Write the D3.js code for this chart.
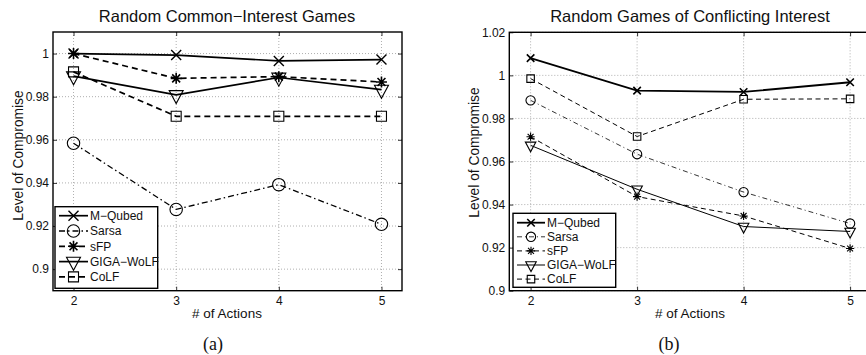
<!DOCTYPE html>
<html>
<head>
<meta charset="utf-8">
<script src="https://cdn.jsdelivr.net/npm/d3@7"></script>
<style>
  body { margin: 0; background: #fff; }
  svg { display: block; font-family: "Liberation Sans", Arial, sans-serif; }
</style>
</head>
<body>
<svg id="chart" width="866" height="355"></svg>
<script>
// data
const actions = [2, 3, 4, 5];
const seriesNames = ['M\u2212Qubed', 'Sarsa', 'sFP', 'GIGA\u2212WoLF', 'CoLF'];

// (a) random common-interest games
const commonMQubed = [1.0, 0.9993, 0.9966, 0.9972];
const commonSarsa = [0.9584, 0.9277, 0.9392, 0.9208];
const commonSFP = [1.0, 0.9885, 0.9893, 0.9868];
const commonGiga = [0.9895, 0.9808, 0.9889, 0.9833];
const commonCoLF = [0.9915, 0.9709, 0.9709, 0.9709];

// (b) random games of conflicting interest
const conflictMQubed = [1.008, 0.9929, 0.9923, 0.9968];
const conflictSarsa = [0.9884, 0.9634, 0.9458, 0.9312];
const conflictSFP = [0.9715, 0.9437, 0.9347, 0.9196];
const conflictGiga = [0.9675, 0.9471, 0.9298, 0.9275];
const conflictCoLF = [0.9985, 0.9716, 0.9889, 0.9891];

const commonYTicks = [0.9, 0.92, 0.94, 0.96, 0.98, 1];
const conflictYTicks = [0.9, 0.92, 0.94, 0.96, 0.98, 1, 1.02];

const svg = d3.select('#chart');

// marker shapes, s = size factor
function markerPath(kind, s) {
    if (kind === 'x') {
        const h = 5 * s;
        return `M${-h},${-h}L${h},${h}M${-h},${h}L${h},${-h}`;
    }
    if (kind === 'star') {
        const a = 5.5 * s, b = a * 0.72;
        return `M${-a},0L${a},0M0,${-a}L0,${a}M${-b},${-b}L${b},${b}M${-b},${b}L${b},${-b}`;
    }
    if (kind === 'circle') {
        const r = 6.2 * s;
        return `M${r},0A${r},${r} 0 1,1 ${-r},0A${r},${r} 0 1,1 ${r},0Z`;
    }
    if (kind === 'tri') {
        const w = 7 * s, h = 13 * s;
        return `M${-w},${-h / 3}L${w},${-h / 3}L0,${2 * h / 3}Z`;
    }
    // square
    const q = 5 * s;
    return `M${-q},${-q}L${q},${-q}L${q},${q}L${-q},${q}Z`;
}

function drawPanel(p) {
    const x = d3.scaleLinear().domain([1.8, 5.2]).range([p.left, p.right]);
    const y = d3.scaleLinear().domain(p.yDomain).range([p.bottom, p.top]);
    const g = svg.append('g');

    // dotted grid
    g.append('g').selectAll('line')
        .data(actions)
        .enter().append('line')
        .attr('x1', d => x(d)).attr('x2', d => x(d))
        .attr('y1', p.top).attr('y2', p.bottom)
        .attr('stroke', '#9a9a9a').attr('stroke-width', 0.8)
        .attr('stroke-dasharray', '1,2');
    g.append('g').selectAll('line')
        .data(p.yTicks)
        .enter().append('line')
        .attr('x1', p.left).attr('x2', p.right)
        .attr('y1', d => y(d)).attr('y2', d => y(d))
        .attr('stroke', '#9a9a9a').attr('stroke-width', 0.8)
        .attr('stroke-dasharray', '1,2');

    // axes, inward ticks
    const fmt = d => String(+d.toFixed(2));
    const ax = g.append('g').attr('transform', `translate(0,${p.bottom})`)
        .call(d3.axisBottom(x).tickValues(actions).tickSize(-4).tickPadding(6).tickFormat(d3.format('d')));
    const ay = g.append('g').attr('transform', `translate(${p.left},0)`)
        .call(d3.axisLeft(y).tickValues(p.yTicks).tickSize(-4).tickPadding(4).tickFormat(fmt));
    g.append('g').attr('transform', `translate(0,${p.top})`)
        .call(d3.axisTop(x).tickValues(actions).tickSize(-4).tickFormat(''));
    g.append('g').attr('transform', `translate(${p.right},0)`)
        .call(d3.axisRight(y).tickValues(p.yTicks).tickSize(-4).tickFormat(''));
    g.selectAll('.domain').remove();
    g.selectAll('.tick line').attr('stroke', '#000').attr('stroke-width', 0.8);
    [ax, ay].forEach(a => a.selectAll('text')
        .attr('font-size', 12).attr('fill', '#111')
        .attr('font-family', '"Liberation Sans", Arial, sans-serif'));

    g.append('rect')
        .attr('x', p.left).attr('y', p.top)
        .attr('width', p.right - p.left).attr('height', p.bottom - p.top)
        .attr('fill', 'none').attr('stroke', '#000').attr('stroke-width', 1.4);

    // series
    const line = d3.line().x((d, i) => x(actions[i])).y(d => y(d));
    p.series.forEach(s => {
        g.append('path')
            .attr('d', line(s.values))
            .attr('fill', 'none').attr('stroke', '#000')
            .attr('stroke-width', s.width)
            .attr('stroke-dasharray', s.dash);
        g.append('g').selectAll('path')
            .data(s.values)
            .enter().append('path')
            .attr('transform', (d, i) => `translate(${x(actions[i])},${y(d)})`)
            .attr('d', markerPath(s.marker, p.markerScale))
            .attr('fill', 'none').attr('stroke', '#000')
            .attr('stroke-width', s.markerWidth);
    });

    // legend
    const lg = g.append('g');
    lg.append('rect')
        .attr('x', p.legend.x).attr('y', p.legend.y)
        .attr('width', p.legend.w).attr('height', p.legend.h)
        .attr('fill', '#fff').attr('stroke', '#000').attr('stroke-width', 1.4);
    const row = lg.selectAll('g.row')
        .data(p.series)
        .enter().append('g')
        .attr('transform', (d, i) => `translate(${p.legend.x},${p.legend.row0 + i * p.legend.step})`);
    row.append('line')
        .attr('x1', 4).attr('x2', p.legend.sample)
        .attr('stroke', '#000')
        .attr('stroke-width', d => d.width)
        .attr('stroke-dasharray', d => d.dash);
    row.append('path')
        .attr('transform', `translate(${(4 + p.legend.sample) / 2},0)`)
        .attr('d', d => markerPath(d.marker, p.markerScale))
        .attr('fill', 'none').attr('stroke', '#000')
        .attr('stroke-width', d => d.markerWidth);
    row.append('text')
        .attr('x', p.legend.sample + 2).attr('dy', '0.35em')
        .attr('font-size', 12).attr('fill', '#111')
        .text(d => d.name);

    // labels
    const cx = (p.left + Math.min(p.right, 866 + 5)) / 2;
    svg.append('text')
        .attr('x', p.titleX).attr('y', 21.5)
        .attr('text-anchor', 'middle')
        .attr('font-size', 16.5).attr('fill', '#111')
        .text(p.title);
    svg.append('text')
        .attr('x', p.titleX).attr('y', 318)
        .attr('text-anchor', 'middle')
        .attr('font-size', 13.5).attr('fill', '#111')
        .text('# of Actions');
    svg.append('text')
        .attr('transform', `translate(${p.yLabelX},${p.yLabelY}) rotate(-90)`)
        .attr('text-anchor', 'middle')
        .attr('font-size', 13.8).attr('fill', '#111')
        .text('Level of Compromise');
    svg.append('text')
        .attr('x', p.captionX).attr('y', 350)
        .attr('text-anchor', 'middle')
        .attr('font-family', '"Liberation Serif", "Times New Roman", serif')
        .attr('font-size', 18).attr('fill', '#111')
        .text(p.caption);
}

function makeSeries(vals, thin) {
    const w = thin ? 1 : 1.7;
    return [
        { name: seriesNames[0], values: vals[0], marker: 'x', dash: null, width: thin ? 1.8 : 1.7, markerWidth: thin ? 1.6 : 1.4 },
        { name: seriesNames[1], values: vals[1], marker: 'circle', dash: thin ? '5,3,1,3' : '6,3,1.5,3', width: thin ? 0.8 : 1.3, markerWidth: 1.1 },
        { name: seriesNames[2], values: vals[2], marker: 'star', dash: thin ? '5,3.5' : '6,4', width: w, markerWidth: thin ? 1.1 : 1.6 },
        { name: seriesNames[3], values: vals[3], marker: 'tri', dash: null, width: w, markerWidth: 1.1 },
        { name: seriesNames[4], values: vals[4], marker: 'square', dash: thin ? '5,3.5' : '6,4', width: w, markerWidth: 1.1 }
    ];
}

drawPanel({
    left: 53, right: 402, top: 32, bottom: 290.7,
    yDomain: [0.89, 1.01], yTicks: commonYTicks,
    markerScale: 1,
    series: makeSeries([commonMQubed, commonSarsa, commonSFP, commonGiga, commonCoLF], false),
    legend: { x: 55, y: 206.7, w: 102.7, h: 81.6, row0: 215.7, step: 15.3, sample: 33 },
    title: 'Random Common\u2212Interest Games', titleX: 227,
    yLabelX: 23, yLabelY: 155.5,
    caption: '(a)', captionX: 213
});

drawPanel({
    left: 509.3, right: 871.4, top: 32.3, bottom: 290.7,
    yDomain: [0.9, 1.02], yTicks: conflictYTicks,
    markerScale: 0.75,
    series: makeSeries([conflictMQubed, conflictSarsa, conflictSFP, conflictGiga, conflictCoLF], true),
    legend: { x: 513, y: 213.3, w: 102.7, h: 74, row0: 222.7, step: 14.1, sample: 32 },
    title: 'Random Games of Conflicting Interest', titleX: 690,
    yLabelX: 479, yLabelY: 152.5,
    caption: '(b)', captionX: 669
});
</script>
</body>
</html>
